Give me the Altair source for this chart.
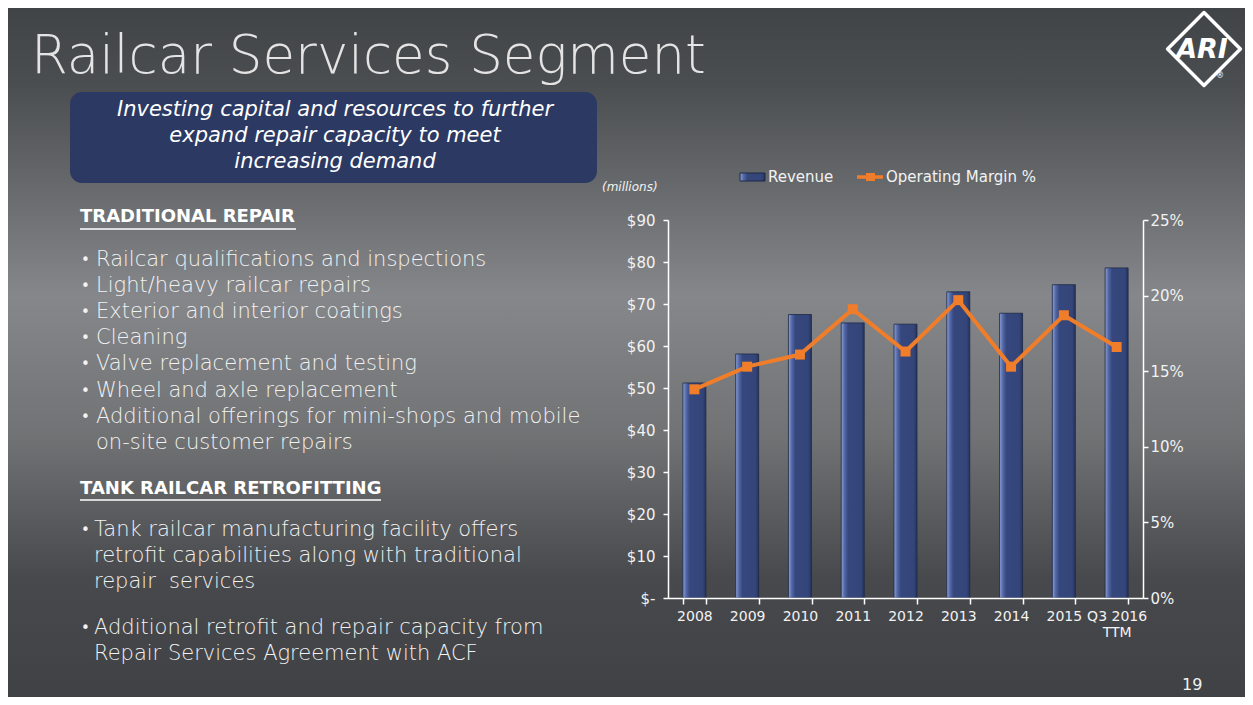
import altair as alt
import pandas as pd

# ---- data ----
CATEGORIES = ["2008", "2009", "2010", "2011", "2012", "2013", "2014", "2015", "Q3 2016 TTM"]
REVENUE = [51.2, 58.1, 67.5, 65.5, 65.2, 72.9, 67.8, 74.6, 78.6]
MARGIN_PCT = [13.8, 15.3, 16.1, 19.1, 16.3, 19.7, 15.3, 18.7, 16.6]

TITLE = "Railcar Services Segment"
CALLOUT = ["Investing capital and resources to further", "expand repair capacity to meet", "increasing demand"]
HEAD1 = "TRADITIONAL REPAIR"
SEC1 = ["Railcar qualifications and inspections", "Light/heavy railcar repairs",
        "Exterior and interior coatings", "Cleaning", "Valve replacement and testing",
        "Wheel and axle replacement", "Additional offerings for mini-shops and mobile",
        "on-site customer repairs"]
SEC1_BULLET = [True, True, True, True, True, True, True, False]
HEAD2 = "TANK RAILCAR RETROFITTING"
SEC2 = ["Tank railcar manufacturing facility offers", "retrofit capabilities along with traditional",
        "repair\u00a0 services", "Additional retrofit and repair capacity from",
        "Repair Services Agreement with ACF"]
SEC2_BULLET = [True, False, False, True, False]
LEGEND = ["Revenue", "Operating Margin %"]

df = pd.DataFrame({"cat": CATEGORIES, "rev": REVENUE, "margin": MARGIN_PCT})

# plot-area geometry (page coords) -> chart coords
PX0, PY0 = 668, 220
W, H = 475, 378
def cx(X):
    return X - PX0
def cy(Y):
    return Y - PY0

FONT = "DejaVu Sans"
one = alt.Data(values=[{"a": 1}])

def text(t, X, Y, size, color="#f2f2f2", align="left", weight="normal", style="normal", baseline="middle", font=FONT):
    return alt.Chart(alt.Data(values=[{"t": t}])).mark_text(
        align=align, baseline=baseline, fontSize=size, color=color, font=font,
        fontWeight=weight, fontStyle=style
    ).encode(x=alt.value(cx(X)), y=alt.value(cy(Y)), text="t:N")

def rect(X1, X2, Y1, Y2, color, radius=0, stroke=None):
    kw = dict(color=color, cornerRadius=radius)
    if stroke:
        kw["stroke"] = stroke
    return alt.Chart(one).mark_rect(**kw).encode(
        x=alt.value(cx(X1)), x2=alt.value(cx(X2)), y=alt.value(cy(Y1)), y2=alt.value(cy(Y2)))

def rule(X1, X2, Y1, Y2, color, width):
    return alt.Chart(one).mark_rule(color=color, strokeWidth=width).encode(
        x=alt.value(cx(X1)), x2=alt.value(cx(X2)), y=alt.value(cy(Y1)), y2=alt.value(cy(Y2)))

bg_grad = alt.LinearGradient(
    gradient="linear", x1=0, x2=0, y1=0, y2=1,
    stops=[alt.GradientStop(color="#404346", offset=0),
           alt.GradientStop(color="#4b4e51", offset=0.12),
           alt.GradientStop(color="#85878a", offset=0.42),
           alt.GradientStop(color="#707274", offset=0.62),
           alt.GradientStop(color="#48494c", offset=0.82),
           alt.GradientStop(color="#3f4144", offset=1)])
background = alt.Chart(one).mark_rect(color=bg_grad).encode(
    x=alt.value(cx(0)), x2=alt.value(cx(1253)), y=alt.value(cy(0)), y2=alt.value(cy(705)))

bar_grad = alt.LinearGradient(
    gradient="linear", x1=0, x2=1, y1=0, y2=0,
    stops=[alt.GradientStop(color="#8ea2d8", offset=0),
           alt.GradientStop(color="#5469a8", offset=0.14),
           alt.GradientStop(color="#36477d", offset=0.3),
           alt.GradientStop(color="#34457a", offset=0.85),
           alt.GradientStop(color="#26345c", offset=1)])

AX = dict(domainColor="#ffffff", domainWidth=1.5, tickColor="#ffffff", tickWidth=1.5,
          labelColor="#f2f2f2", labelFont=FONT, zindex=1, grid=False)

xenc = alt.X("cat:N", sort=CATEGORIES, title=None,
             scale=alt.Scale(paddingInner=0.56, paddingOuter=0.28),
             axis=alt.Axis(labelAngle=0, tickBand="extent", tickSize=6, labelPadding=5, labelFontSize=14,
                           labelExpr="datum.value == 'Q3 2016 TTM' ? ['Q3 2016', 'TTM'] : datum.value",
                           **AX))

bars = alt.Chart(df).mark_bar(size=23, color=bar_grad, stroke="#1e2846", strokeWidth=0.8).encode(
    x=xenc,
    y=alt.Y("rev:Q", title=None, scale=alt.Scale(domain=[0, 90], nice=False),
            axis=alt.Axis(orient="left", values=list(range(0, 91, 10)), tickSize=5, labelPadding=8,
                          labelFontSize=15,
                          labelExpr="datum.value == 0 ? '$-' : '$' + datum.value", **AX)))

yr = alt.Y("margin:Q", title=None, scale=alt.Scale(domain=[0, 25], nice=False),
           axis=alt.Axis(orient="right", values=list(range(0, 26, 5)), tickSize=5, labelPadding=2,
                         labelFontSize=15, labelExpr="datum.value + '%'", **AX))
line = alt.Chart(df).mark_line(color="#f07d2a", strokeWidth=4).encode(x=alt.X("cat:N", sort=CATEGORIES), y=yr)
pts = alt.Chart(df).mark_point(shape="square", filled=True, size=100, color="#f07d2a", opacity=1).encode(
    x=alt.X("cat:N", sort=CATEGORIES), y=yr)

chart_core = alt.layer(bars, alt.layer(line, pts)).resolve_scale(y="independent")

# ---- decorations ----
deco = [
    text(TITLE, 31, 57, 53, color="#e4e4e4", weight=200),
    rect(70, 597, 92, 183, "#2b3963", radius=12),
]
for i, s in enumerate(CALLOUT):
    deco.append(text(s, 335, 110 + 26 * i, 21, color="#ffffff", align="center", style="italic", weight=300))

deco.append(text(HEAD1, 80, 217, 18, color="#ffffff", weight="bold"))
deco.append(rule(80, 296, 229, 229, "#ffffff", 1.5))
for i, (s, b) in enumerate(zip(SEC1, SEC1_BULLET)):
    Y = 260 + 26.1 * i
    if b:
        deco.append(text("•", 81, Y, 15, color="#f2f2f2"))
    deco.append(text(s, 96, Y, 21, color="#f2f2f2", weight=300))

deco.append(text(HEAD2, 80, 489, 18, color="#ffffff", weight="bold"))
deco.append(rule(80, 381, 500, 500, "#ffffff", 1.5))
ys2 = [530, 556, 582, 628, 654]
for s, b, Y in zip(SEC2, SEC2_BULLET, ys2):
    if b:
        deco.append(text("•", 81, Y, 15, color="#f2f2f2"))
    deco.append(text(s, 94, Y, 21, color="#f2f2f2", weight=300))

# legend
deco.append(rect(740, 765, 173, 181, bar_grad, stroke="#1e2846"))
deco.append(text(LEGEND[0], 768, 177, 15, color="#f2f2f2"))
deco.append(rule(857, 883, 177, 177, "#f07d2a", 3.5))
deco.append(rect(866, 875, 173, 181, "#f07d2a"))
deco.append(text(LEGEND[1], 886, 177, 15, color="#f2f2f2"))
deco.append(text("(millions)", 602, 187, 12, color="#f2f2f2", style="italic"))

# logo
deco.append(alt.Chart(one).mark_point(shape="diamond", size=5300, filled=False, stroke="#ffffff",
                                      strokeWidth=3.5, strokeJoin="round", opacity=1).encode(
    x=alt.value(cx(1204)), y=alt.value(cy(49))))
deco.append(text("ARI", 1202, 50, 27, color="#ffffff", align="center", weight="bold", style="italic"))
deco.append(text("®", 1220, 76, 8, color="#ffffff", align="center"))

deco.append(text("19", 1182, 685, 16, color="#f2f2f2"))

chart = alt.layer(background, *deco, chart_core).properties(
    width=W, height=H,
    padding={"left": 660, "top": 212, "right": 1237 - 660 - W, "bottom": 689 - 212 - H},
    autosize=alt.AutoSizeParams(type="none"),
    background="#404346",
).configure_view(stroke=None)

chart.save("out.html", embed_options={"renderer": "svg", "actions": False})
